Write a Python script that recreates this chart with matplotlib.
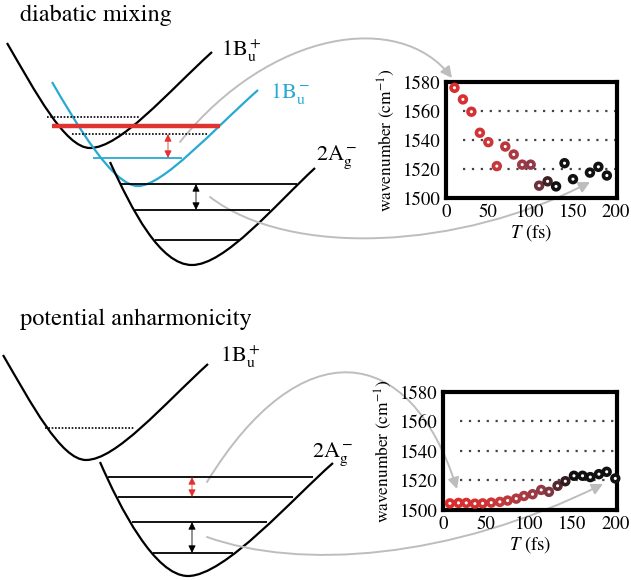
import numpy as np
import matplotlib
matplotlib.use('Agg')
import matplotlib.pyplot as plt
from matplotlib.path import Path
from matplotlib.patches import PathPatch, FancyArrowPatch
from matplotlib.colors import LinearSegmentedColormap

plt.rcParams['font.family'] = ['STIXGeneral', 'DejaVu Serif']
plt.rcParams['mathtext.fontset'] = 'stix'

# inset data: diabatic mixing (top) and potential anharmonicity (bottom)
t_top = [10, 20, 30, 40, 50, 60, 70, 80, 90, 100, 110, 120, 130, 140, 150, 170, 180, 190]
wn_top = [1576, 1568, 1559.5, 1545, 1538.5, 1522, 1535.5, 1530, 1523, 1523,
          1508.5, 1511.5, 1508, 1524, 1513, 1517.5, 1521.5, 1515.5]

t_bot = [8, 18, 27, 37, 46, 56, 66, 75, 85, 94, 104, 114, 123, 133, 142,
         152, 162, 171, 181, 190, 200]
wn_bot = [1504.5, 1504.8, 1504.8, 1504.3, 1504.5, 1505, 1505.5, 1506.4, 1507.7,
          1509.5, 1510.7, 1513.6, 1512.3, 1516.4, 1519.5, 1523.2, 1523.2,
          1522.3, 1524.3, 1525.9, 1521.4]

x_ticks = [0, 50, 100, 150, 200]
y_ticks = [1500, 1520, 1540, 1560, 1580]

RED = '#e0332f'
CYAN = '#27a9d4'
GREY = '#bdbdbd'
cmap = LinearSegmentedColormap.from_list(
    'tm', [(0, '#e02a2a'), (0.45, '#c8383b'), (0.8, '#8a3a48'), (1, '#111111')])

fig = plt.figure(figsize=(6.31, 5.80), dpi=100)
ax = fig.add_axes([0, 0, 1, 1])
ax.set_xlim(0, 631)
ax.set_ylim(580, 0)
ax.axis('off')


def well(pts, color, lw=1.6):
    codes = [Path.MOVETO] + [Path.CURVE4] * 6
    ax.add_patch(PathPatch(Path(pts, codes), fill=False, ec=color, lw=lw))


def level(y, x0, x1, color='black', lw=1.3, ls='-'):
    ax.plot([x0, x1], [y, y], color=color, lw=lw, ls=ls, solid_capstyle='butt')


def double_arrow(x, y0, y1, color):
    ax.annotate('', xy=(x, y1), xytext=(x, y0),
                arrowprops=dict(arrowstyle='<|-|>,head_length=0.45,head_width=0.22',
                                color=color, lw=0.6, shrinkA=0, shrinkB=0,
                                mutation_scale=10))


def connector(pts):
    codes = [Path.MOVETO] + [Path.CURVE4] * 3
    ax.add_patch(FancyArrowPatch(path=Path(pts, codes),
                                 arrowstyle='-|>,head_length=0.55,head_width=0.28',
                                 mutation_scale=12, color=GREY, lw=1.4))


# ---- top diagram: diabatic mixing
ax.text(20, 21, 'diabatic mixing', fontsize=17.5, va='baseline')
well([(7, 43), (35, 91), (65, 148), (90, 148), (120, 148), (167, 93), (212, 52)], 'black')
well([(52, 82), (77, 125), (113, 186), (138, 186), (163, 186), (213, 130), (258, 90)], CYAN)
well([(110, 162), (132, 210), (160, 265), (192, 265), (225, 265), (275, 205), (315, 168)], 'black')
level(117, 47, 140, ls=(0, (1, 1)), lw=1.2)
level(126, 52, 220, color=RED, lw=3.2)
level(134, 72, 208, ls=(0, (1, 1)), lw=1.2)
level(158, 93, 182, color=CYAN)
level(184, 120, 297)
level(210, 135, 270)
level(240, 155, 240)
double_arrow(168, 134, 158, RED)
double_arrow(196, 184, 210, 'black')
ax.text(221, 56, r'1B$_\mathrm{u}^+$', fontsize=16, va='baseline')
ax.text(270, 98, r'1B$_\mathrm{u}^-$', fontsize=16, va='baseline', color=CYAN)
ax.text(316, 160, r'2A$_\mathrm{g}^-$', fontsize=16, va='baseline')

# ---- bottom diagram: potential anharmonicity
ax.text(20, 325, 'potential anharmonicity', fontsize=17.5, va='baseline')
well([(3, 355), (31, 403), (61, 460), (86, 460), (116, 460), (163, 405), (208, 364)], 'black')
well([(100, 462), (120, 508), (155, 576), (188, 576), (225, 576), (293, 498), (333, 463)], 'black')
level(428, 45, 135, ls=(0, (1, 1)), lw=1.2)
level(477, 108, 313)
level(497, 118, 293)
level(522, 132, 267)
level(553, 153, 233)
double_arrow(192, 477, 497, RED)
double_arrow(192, 522, 553, 'black')
ax.text(220, 362, r'1B$_\mathrm{u}^+$', fontsize=16, va='baseline')
ax.text(312, 457, r'2A$_\mathrm{g}^-$', fontsize=16, va='baseline')

# grey connectors to the insets
connector([(180, 142), (270, 30), (400, 10), (452, 78)])
connector([(210, 197), (290, 258), (460, 250), (590, 182)])
connector([(207, 482), (300, 330), (410, 340), (457, 489)])
connector([(207, 537), (300, 570), (450, 560), (603, 484)])


def inset(rect, t, wn, t_black):
    a = fig.add_axes(rect)
    a.set_facecolor('none')
    for y in y_ticks[1:-1]:
        a.axhline(y, color='#444444', lw=1.6, ls=(0, (1, 3.0)), xmin=0.1, xmax=0.99)
    cols = cmap(np.clip(np.array(t) / t_black, 0, 1))
    a.scatter(t, wn, s=24, facecolors='white', edgecolors=cols, linewidths=2.6,
              zorder=3, clip_on=False)
    a.set_xlim(0, 202)
    a.set_ylim(1500, 1580)
    a.set_xticks(x_ticks)
    a.set_yticks(y_ticks)
    a.tick_params(length=0, labelsize=13.5, pad=4)
    for s in a.spines.values():
        s.set_linewidth(3)
    a.set_xlabel('$T$ (fs)', fontsize=13.5, labelpad=1)
    a.set_ylabel('wavenumber (cm$^{-1}$)', fontsize=12.5, labelpad=4)
    return a


inset([446 / 631, 1 - 198 / 580, 171 / 631, 116 / 580], t_top, wn_top, 130)
inset([443 / 631, 1 - 510 / 580, 174 / 631, 118 / 580], t_bot, wn_bot, 150)

fig.savefig('out.png', dpi=100)
